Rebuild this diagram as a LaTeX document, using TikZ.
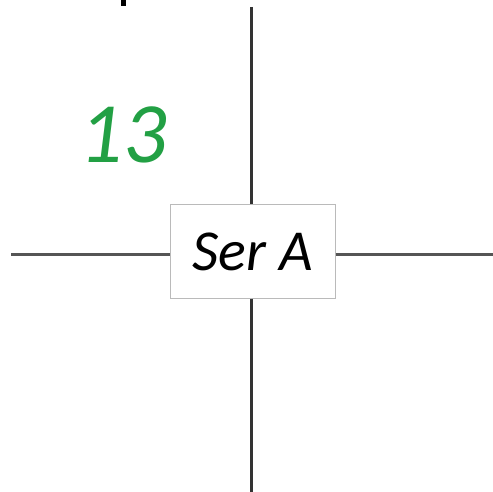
\documentclass[tikz,border=0pt]{standalone}
\usepackage{fontspec}
\setmainfont{Carlito}
\definecolor{numgreen}{RGB}{34,160,68}
\definecolor{axisgray}{RGB}{85,85,85}
\begin{document}
\begin{tikzpicture}[x=1pt,y=-1pt]

      \useasboundingbox (0,0) rectangle (493,492);

      \coordinate (top)   at (251,7);
      \coordinate (bot)   at (251,492);
      \coordinate (left)  at (11,254);
      \coordinate (right) at (493,254);

      \begin{scope}[every node/.style={draw=black!27,fill=white,line width=1pt,
          minimum width=165pt,minimum height=93pt,inner sep=0pt,
          font=\fontsize{58}{60}\selectfont\itshape}]
        \node (serA) at (252.5,251.5) {Ser A};
      \end{scope}

      \begin{scope}[line width=3pt]
        \draw[black!80] (top) -- (serA.north -| top);
        \draw[black!80] (serA.south -| bot) -- (bot);
        \draw[axisgray] (left) -- (serA.west |- left);
        \draw[axisgray] (serA.east |- right) -- (right);
      \end{scope}

      \node[text=numgreen,inner sep=0pt,font=\fontsize{86}{88}\selectfont\itshape]
        (num) at (123,135) {13};

      % stray mark at the top edge
      \fill (121,0) rectangle (126,6);

    \end{tikzpicture}
\end{document}
